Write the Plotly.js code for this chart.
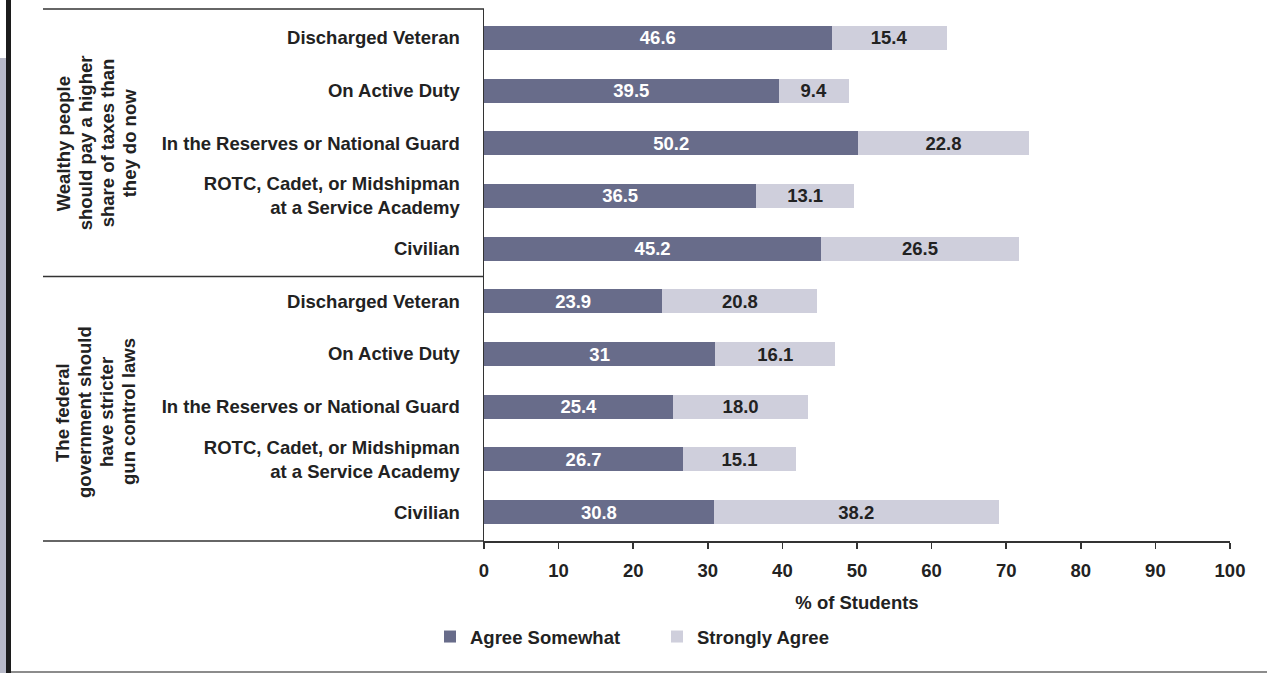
<!DOCTYPE html>
<html>
<head>
<meta charset="utf-8">
<script src="https://cdn.plot.ly/plotly-3.0.1.min.js"></script>
<style>
html,body{margin:0;padding:0;background:#fff;}
#chart{width:1267px;height:673px;}
</style>
</head>
<body>
<div id="chart"></div>
<script>
var categories = [
  "Discharged Veteran",
  "On Active Duty",
  "In the Reserves or National Guard",
  "ROTC, Cadet, or Midshipman<br>at a Service Academy",
  "Civilian",
  "Discharged Veteran",
  "On Active Duty",
  "In the Reserves or National Guard",
  "ROTC, Cadet, or Midshipman<br>at a Service Academy",
  "Civilian"
];
var groupLabelLines = [
  ["Wealthy people", "should pay a higher", "share of taxes than", "they do now"],
  ["The federal", "government should", "have stricter", "gun control laws"]
];
var agreeSomewhat = [46.6, 39.5, 50.2, 36.5, 45.2, 23.9, 31, 25.4, 26.7, 30.8];
var agreeSomewhatText = ["46.6","39.5","50.2","36.5","45.2","23.9","31","25.4","26.7","30.8"];
var stronglyAgree = [15.4, 9.4, 22.8, 13.1, 26.5, 20.8, 16.1, 18.0, 15.1, 38.2];
var stronglyAgreeText = ["15.4","9.4","22.8","13.1","26.5","20.8","16.1","18.0","15.1","38.2"];
var seriesNames = ["Agree Somewhat", "Strongly Agree"];
var xTicks = [0,10,20,30,40,50,60,70,80,90,100];

var pos = categories.map(function(_, i){ return i; });
var FONT = '"Liberation Sans", Arial, Helvetica, sans-serif';
var FS = 18.5;

var traces = [
  {
    type: 'bar', orientation: 'h', name: seriesNames[0],
    y: pos, x: agreeSomewhat, text: agreeSomewhatText,
    textposition: 'inside', insidetextanchor: 'middle', textangle: 0,
    constraintext: 'none',
    textfont: {family: FONT, size: FS, color: '#ffffff', weight: 'bold'},
    marker: {color: '#686c8a', line: {width: 0}},
    hoverinfo: 'none'
  },
  {
    type: 'bar', orientation: 'h', name: seriesNames[1],
    y: pos, x: stronglyAgree, text: stronglyAgreeText,
    textposition: 'inside', insidetextanchor: 'middle', textangle: 0,
    constraintext: 'none',
    textfont: {family: FONT, size: FS, color: '#222222', weight: 'bold'},
    marker: {color: '#cfcfdc', line: {width: 0}},
    hoverinfo: 'none'
  }
];

var L = 484, R = 37, T = 9, B = 132;
var W = 1267, H = 673;
var pw = W - L - R, ph = H - T - B;
function px(xpx){ return (xpx - L) / pw; }
function py(ypx){ return (H - B - ypx) / ph; }

var annotations = [];
var groupCenters = [2, 7.1];
var lineX = [63, 85, 107, 129];
groupLabelLines.forEach(function(lines, g){
  lines.forEach(function(t, k){
    annotations.push({
      xref: 'paper', yref: 'y', x: px(lineX[k]), y: groupCenters[g], text: t, showarrow: false,
      textangle: -90, align: 'center', xanchor: 'center', yanchor: 'middle',
      font: {family: FONT, size: FS, color: '#222222', weight: 'bold'}
    });
  });
});

var layout = {
  width: W, height: H,
  margin: {l: L, r: R, t: T, b: B, pad: 0},
  paper_bgcolor: '#ffffff', plot_bgcolor: '#ffffff',
  font: {family: FONT, size: FS, color: '#222222', weight: 'bold'},
  barmode: 'stack',
  bargap: 0.545,
  showlegend: true,
  legend: {
    orientation: 'h', traceorder: 'normal',
    x: px(430), xanchor: 'left', y: py(637), yanchor: 'middle',
    font: {family: FONT, size: FS, color: '#222222', weight: 'bold'},
    entrywidth: 182, entrywidthmode: 'pixels',
    itemclick: false, itemdoubleclick: false,
    bgcolor: 'rgba(0,0,0,0)'
  },
  xaxis: {
    range: [0, 100], tickvals: xTicks, ticktext: xTicks.map(String),
    showgrid: false, zeroline: false,
    showline: true, linecolor: '#333333', linewidth: 1.5,
    ticks: 'outside', ticklen: 6, tickwidth: 1.5, tickcolor: '#333333',
    ticklabelstandoff: 6,
    tickfont: {family: FONT, size: FS, color: '#222222', weight: 'bold'},
    title: {text: '% of Students', standoff: 16,
            font: {family: FONT, size: FS, color: '#222222', weight: 'bold'}},
    fixedrange: true
  },
  yaxis: {
    range: [9.55, -0.55],
    tickvals: pos, ticktext: categories,
    showgrid: false, zeroline: false,
    showline: true, linecolor: '#333333', linewidth: 1.5,
    ticks: '', ticklabelstandoff: 19,
    tickfont: {family: FONT, size: FS, color: '#222222', weight: 'bold'},
    fixedrange: true
  },
  shapes: [
    {type: 'rect', xref: 'paper', yref: 'paper', x0: px(0), x1: px(6.5), y0: py(673), y1: py(58),
     fillcolor: '#b8bac9', line: {width: 0}, layer: 'above'},
    {type: 'rect', xref: 'paper', yref: 'paper', x0: px(6), x1: px(11), y0: py(673), y1: py(0),
     fillcolor: '#1c1c1c', line: {width: 0}, layer: 'above'},
    {type: 'line', xref: 'paper', yref: 'paper', x0: px(11), x1: px(1267), y0: py(672), y1: py(672),
     line: {color: '#666666', width: 1.5}},
    {type: 'line', xref: 'paper', yref: 'paper', x0: px(43), x1: 0, y0: 1, y1: 1,
     line: {color: '#333333', width: 1.5}},
    {type: 'line', xref: 'paper', yref: 'paper', x0: px(43), x1: 0, y0: 0, y1: 0,
     line: {color: '#333333', width: 1.5}},
    {type: 'line', xref: 'paper', yref: 'y', x0: px(43), x1: 0, y0: 4.53, y1: 4.53,
     line: {color: '#333333', width: 1.5}}
  ],
  annotations: annotations
};

Plotly.newPlot('chart', traces, layout, {displayModeBar: false, staticPlot: true});
</script>
</body>
</html>
